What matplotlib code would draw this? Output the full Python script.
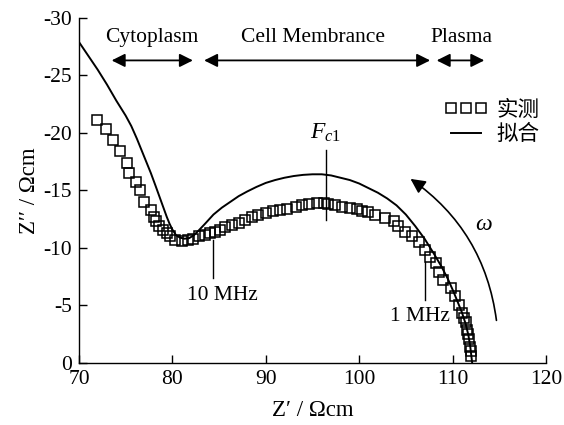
import matplotlib
matplotlib.use("Agg")
import matplotlib.pyplot as plt
from matplotlib.patches import FancyArrowPatch

plt.rcParams['font.family'] = ['Liberation Serif', 'Noto Sans CJK SC']
plt.rcParams['mathtext.fontset'] = 'custom'
plt.rcParams['mathtext.it'] = 'Liberation Serif:italic'
plt.rcParams['mathtext.rm'] = 'Liberation Serif'

# Measured data (Z', Z'')
meas_x = [71.9, 72.9, 73.6, 74.4, 75.1, 75.4, 76.1, 76.5, 77.0, 77.7, 78.0, 78.3,
          78.6, 79.0, 79.4, 79.7, 80.3, 81.0, 81.7, 82.2, 82.9, 83.5, 84.0, 84.6,
          85.1, 85.6, 86.4, 87.1, 87.8, 88.5, 89.2, 90.0, 90.8, 91.5, 92.3, 93.2,
          93.9, 94.6, 95.5, 96.2, 96.7, 97.4, 98.2, 99.0, 99.8, 100.3, 101.0, 101.7,
          102.8, 103.7, 104.2, 104.9, 105.7, 106.4, 107.1, 107.6, 108.2, 108.5, 109.0,
          109.8, 110.3, 110.7, 111.0, 111.2, 111.4, 111.6, 111.7, 111.8, 111.9, 112.0,
          112.0]
meas_y = [-21.1, -20.3, -19.4, -18.4, -17.4, -16.5, -15.7, -15.0, -14.0, -13.3, -12.7, -12.3,
          -11.9, -11.6, -11.3, -11.0, -10.7, -10.6, -10.7, -10.8, -11.0, -11.1, -11.3, -11.4,
          -11.6, -11.8, -12.0, -12.2, -12.4, -12.7, -12.9, -13.0, -13.2, -13.3, -13.4, -13.6,
          -13.7, -13.8, -13.9, -13.9, -13.8, -13.7, -13.6, -13.5, -13.4, -13.2, -13.1, -12.9,
          -12.6, -12.3, -11.9, -11.4, -11.0, -10.5, -9.8, -9.2, -8.7, -7.9, -7.2,
          -6.5, -5.8, -5.0, -4.3, -3.9, -3.6, -2.9, -2.5, -2.1, -1.4, -1.0,
          -0.6]

# Fitted curve
fit_x = [70.0, 71.0, 72.0, 73.0, 74.0, 75.0, 75.6, 76.2, 76.7, 77.2, 77.7, 78.2,
         78.6, 79.0, 79.4, 79.7, 80.0, 80.4, 80.8, 81.3, 81.8, 82.3, 82.8, 83.5,
         84.4, 85.3, 86.2, 87.1, 88.0, 89.0, 90.0, 91.0, 92.0, 93.0, 94.0, 95.0,
         96.0, 97.0, 98.0, 99.0, 100.0, 101.0, 102.0, 103.0, 104.0, 105.0, 106.0,
         107.0, 108.0, 108.8, 109.5, 110.1, 110.6, 111.0, 111.4, 111.7, 111.9,
         112.0, 112.1]
fit_y = [-27.9, -26.7, -25.5, -24.2, -22.8, -21.5, -20.6, -19.5, -18.5, -17.5, -16.5, -15.4,
         -14.5, -13.6, -12.7, -12.1, -11.6, -11.1, -10.9, -10.8, -10.85, -11.1, -11.5, -12.1,
         -12.9, -13.5, -14.0, -14.5, -14.9, -15.3, -15.65, -15.9, -16.1, -16.25, -16.35, -16.4,
         -16.4, -16.3, -16.1, -15.9, -15.6, -15.2, -14.8, -14.3, -13.7, -12.9, -11.9,
         -10.8, -9.5, -8.4, -7.3, -6.2, -5.2, -4.4, -3.4, -2.4, -1.4,
         -0.7, 0.0]

legend_labels = ['实测', '拟合']
region_labels = ['Cytoplasm', 'Cell Membrance', 'Plasma']
region_x = [77.8, 95.1, 111.0]
region_spans = [(73.5, 82.2), (83.4, 107.6), (108.3, 113.4)]

fig = plt.figure(figsize=(5.64, 4.25), dpi=100)
ax = fig.add_axes([0.140, 0.146, 0.828, 0.812])

ax.plot(meas_x, meas_y, linestyle='none', marker='s', markersize=7.8,
        markerfacecolor='none', markeredgecolor='black', markeredgewidth=1.1,
        label=legend_labels[0])
ax.plot(fit_x, fit_y, color='black', linewidth=1.4, label=legend_labels[1])

ax.set_xlim(70, 120)
ax.set_ylim(0, -30)
ax.set_xticks([70, 80, 90, 100, 110, 120])
ax.set_yticks([0, -5, -10, -15, -20, -25, -30])
ax.set_yticklabels(['0', '-5', '-10', '-15', '-20', '-25', '-30'])
ax.tick_params(direction='in', length=6, width=1, labelsize=15.5, pad=5)
for s in ['top', 'right']:
    ax.spines[s].set_visible(False)
for s in ['left', 'bottom']:
    ax.spines[s].set_linewidth(1.0)

ax.set_xlabel("Z\u2032 / Ωcm", fontsize=16.5, labelpad=8)
ax.set_ylabel("Z\u2032\u2032 / Ωcm", fontsize=16.5, labelpad=2)

# region arrows
for lab, cx, (a, b) in zip(region_labels, region_x, region_spans):
    arr = FancyArrowPatch((a, -26.3), (b, -26.3), arrowstyle='<|-|>',
                          mutation_scale=20, color='black', linewidth=1.3,
                          shrinkA=0, shrinkB=0)
    ax.add_patch(arr)
    ax.text(cx, -28.3, lab, ha='center', va='center', fontsize=15.5)

# annotations
ax.plot([96.4, 96.4], [-18.5, -12.4], color='black', linewidth=1.0)
ax.text(96.4, -20.0, '$F_{c1}$', ha='center', va='center', fontsize=17)
ax.plot([84.3, 84.3], [-10.7, -7.4], color='black', linewidth=1.0)
ax.text(85.4, -5.9, '10 MHz', ha='center', va='center', fontsize=15.5)
ax.plot([107.0, 107.0], [-8.8, -5.5], color='black', linewidth=1.0)
ax.text(106.5, -4.0, '1 MHz', ha='center', va='center', fontsize=15.5)

omega = FancyArrowPatch((114.7, -3.7), (105.5, -16.0), arrowstyle='-|>',
                        connectionstyle='arc3,rad=0.22', mutation_scale=22,
                        color='black', linewidth=1.2, shrinkA=0, shrinkB=0)
ax.add_patch(omega)
ax.text(113.3, -12.0, r'$\omega$', ha='center', va='center', fontsize=17)

leg = ax.legend(loc='upper left', bbox_to_anchor=(0.765, 0.785), frameon=False,
                numpoints=3, handlelength=2.0, handletextpad=0.4,
                labelspacing=0.2, fontsize=15.5, borderaxespad=0)

fig.savefig('out.png', dpi=100)
